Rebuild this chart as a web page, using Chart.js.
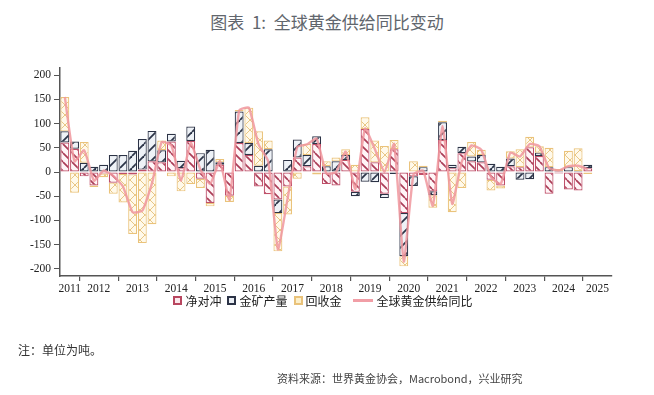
<!DOCTYPE html>
<html>
<head>
<meta charset="utf-8">
<script src="https://cdn.jsdelivr.net/npm/chart.js@4.4.1/dist/chart.umd.min.js"></script>
<style>
  body { margin: 0; background: #fff; }
  #wrap { position: relative; width: 654px; height: 395px; overflow: hidden; font-family: "Noto Sans CJK SC", sans-serif; }
  #title { position: absolute; top: 9px; left: 0; width: 654px; text-align: center; font-size: 17px; color: #61666d; white-space: pre; }
  #chartBox { position: absolute; left: 0; top: 0; width: 654px; height: 395px; }
  #legend { position: absolute; top: 292px; left: 0; width: 646px; display: flex; justify-content: center; align-items: center; font-size: 12px; color: #222; }
  .item { display: flex; align-items: center; margin: 0 3px; }
  .sq { width: 9px; height: 9px; box-sizing: border-box; border: 2px solid; margin-right: 3px; }
  .ln { width: 20px; height: 2.5px; margin: 0 4px 0 5px; }
  #note { position: absolute; left: 18px; top: 341px; font-size: 12px; color: #333; }
  #source { position: absolute; left: 277px; top: 370px; font-size: 11px; color: #444; }
</style>
</head>
<body>
<div id="wrap">
  <div id="title">图表  1:  全球黄金供给同比变动</div>
  <div id="chartBox"><canvas id="supplyChart"></canvas></div>
  <div id="legend">
    <div class="item"><span class="sq" style="border-color:#b8465f;background:#fbe8ec"></span>净对冲</div>
    <div class="item"><span class="sq" style="border-color:#2c3346;background:#e9edf3"></span>金矿产量</div>
    <div class="item"><span class="sq" style="border-color:#e9c27a;background:#fcefc9"></span>回收金</div>
    <div class="item"><span class="ln" style="background:#f19ea6"></span>全球黄金供给同比</div>
  </div>
  <div id="note">注：单位为吨。</div>
  <div id="source">资料来源：世界黄金协会，Macrobond，兴业研究</div>
</div>
<script>
// quarters on the x axis (last two slots are empty)
const quarters = [
    '2011Q3', '2011Q4',
    '2012Q1', '2012Q2', '2012Q3', '2012Q4',
    '2013Q1', '2013Q2', '2013Q3', '2013Q4',
    '2014Q1', '2014Q2', '2014Q3', '2014Q4',
    '2015Q1', '2015Q2', '2015Q3', '2015Q4',
    '2016Q1', '2016Q2', '2016Q3', '2016Q4',
    '2017Q1', '2017Q2', '2017Q3', '2017Q4',
    '2018Q1', '2018Q2', '2018Q3', '2018Q4',
    '2019Q1', '2019Q2', '2019Q3', '2019Q4',
    '2020Q1', '2020Q2', '2020Q3', '2020Q4',
    '2021Q1', '2021Q2', '2021Q3', '2021Q4',
    '2022Q1', '2022Q2', '2022Q3', '2022Q4',
    '2023Q1', '2023Q2', '2023Q3', '2023Q4',
    '2024Q1', '2024Q2', '2024Q3', '2024Q4',
    '2025Q1', '2025Q2', '2025Q3'
];
const years = ['2011', '2012', '2013', '2014', '2015', '2016', '2017', '2018',
    '2019', '2020', '2021', '2022', '2023', '2024', '2025'];
const yTicks = [-200, -150, -100, -50, 0, 50, 100, 150, 200];

// tonnes, year-on-year change
const netHedging = [61, 48, -9, -28, -3, -22, -4, -5, 5, 22, 20, 63, 8, 64, -14, -64, 15, -49,
    60, 35, -30, -46, -57, -30, 30, 12, 58, -25, -28, 25, -41, 89, 20, -45, 47, -85, -9, -6,
    -40, 66, 8, 39, 22, 20, -16, -28, 12, 10, 51, 33, -45, -3, -36, -38, 8, null, null];
const mineProduction = [23, 15, 19, 11, 15, 35, 35, 44, 63, 63, 25, 16, 15, 30, 39, 46, 5, 0,
    65, 25, 13, 47, -28, 25, 37, 23, 16, 12, 22, 10, -9, -20, -21, -9, -4, -89, -20, 10,
    -8, 37, 7, 13, 10, 15, 17, 11, 16, -16, -15, 7, 10, 2, 10, 2, 7, null, null];
const recycledGold = [71, -43, 43, -3, -8, -23, -59, -123, -147, -108, 20, -9, -40, -25, -19, -7, 7, -13,
    3, 73, 71, 18, -79, -58, -14, 23, -5, 10, 8, 12, 15, 24, 45, 54, 19, -21, 22, 3,
    -26, 3, -83, -33, 30, 11, -22, -6, 15, 37, 22, 13, 40, 4, 34, 47, -4, null, null];
const totalSupply = [155, 22, 45, -18, 3, -8, -30, -83, -80, -23, 62, 55, -18, 60, 5, -25, 22, -57,
    127, 133, 57, 22, -160, -55, 52, 57, 69, -3, 0, 42, -35, 90, 48, 0, 58, -185, -5, 3,
    -70, 95, -66, 22, 55, 46, -10, -25, 40, 32, 58, 53, 8, 3, 12, 13, 6, null, null];

function hatch(size, bg, color, width, dirs) {
    const c = document.createElement('canvas');
    c.width = size; c.height = size;
    const g = c.getContext('2d');
    g.fillStyle = bg;
    g.fillRect(0, 0, size, size);
    g.strokeStyle = color;
    g.lineWidth = width;
    dirs.forEach(d => {
        for (let k = -size; k <= size; k += size) {
            g.beginPath();
            if (d === '\\') { g.moveTo(k, 0); g.lineTo(k + size, size); }
            else { g.moveTo(k, size); g.lineTo(k + size, 0); }
            g.stroke();
        }
    });
    return g.createPattern(c, 'repeat');
}

const cv = document.getElementById('supplyChart');
const redFill = hatch(9, '#fff5f7', '#aa3d57', 1.7, ['\\']);
const navyFill = hatch(12, '#eef2f7', '#2c3448', 1.8, ['/']);
const yellowFill = hatch(10, '#fff9ea', '#e8c684', 1, ['/', '\\']);

const isYearStart = i => quarters[i] !== undefined && quarters[i].endsWith('Q1');

const yearLabels = {
    id: 'yearLabels',
    afterDraw(chart) {
        const xs = chart.scales.x;
        const c = chart.ctx;
        c.save();
        c.font = '11.5px "Liberation Serif"';
        c.fillStyle = '#222';
        c.textAlign = 'center';
        c.textBaseline = 'middle';
        years.forEach(y => {
            const idx = [];
            quarters.forEach((q, i) => { if (q.startsWith(y)) idx.push(i); });
            const px = (xs.getPixelForValue(idx[0]) + xs.getPixelForValue(idx[idx.length - 1])) / 2;
            c.fillText(y, px, chart.chartArea.bottom + 13);
        });
        c.restore();
    }
};

new Chart(cv, {
    type: 'bar',
    data: {
        labels: quarters,
        datasets: [
            { label: '净对冲', data: netHedging, backgroundColor: redFill, borderColor: '#bf4f69',
              borderWidth: 1.2, borderSkipped: false, stack: 'supply' },
            { label: '金矿产量', data: mineProduction, backgroundColor: navyFill, borderColor: '#2c3346',
              borderWidth: 1.2, borderSkipped: false, stack: 'supply' },
            { label: '回收金', data: recycledGold, backgroundColor: yellowFill, borderColor: '#eac37b',
              borderWidth: 1.2, borderSkipped: false, stack: 'supply' },
            { type: 'line', label: '全球黄金供给同比', data: totalSupply, borderColor: 'rgba(240,150,158,0.85)',
              borderWidth: 2.4, pointRadius: 0, tension: 0.15, stack: 'total', order: -1 }
        ]
    },
    options: {
        responsive: true,
        maintainAspectRatio: false,
        animation: false,
        layout: { padding: { left: 15, right: 42, top: 68, bottom: 99 } },
        plugins: { legend: { display: false }, tooltip: { enabled: false } },
        datasets: { bar: { barPercentage: 0.92, categoryPercentage: 1 } },
        scales: {
            x: {
                stacked: true,
                offset: true,
                ticks: { display: false, autoSkip: false },
                grid: {
                    offset: true,
                    drawOnChartArea: false,
                    drawTicks: true,
                    tickLength: 5,
                    lineWidth: 1.2,
                    color: c => isYearStart(c.index) ? '#555' : 'rgba(0,0,0,0)'
                },
                border: { color: '#555', width: 1.5 },
                afterFit: s => { s.height = 20; }
            },
            y: {
                stacked: true,
                min: -215,
                max: 215,
                afterBuildTicks: s => { s.ticks = yTicks.map(v => ({ value: v })); },
                ticks: { font: { family: 'Liberation Serif', size: 11.5 }, color: '#222', padding: 3 },
                grid: { drawOnChartArea: false, tickLength: 6, color: '#555' },
                border: { color: '#555', width: 1.5 },
                afterFit: s => { s.width = 45; }
            }
        }
    },
    plugins: [yearLabels]
});
</script>
</body>
</html>
